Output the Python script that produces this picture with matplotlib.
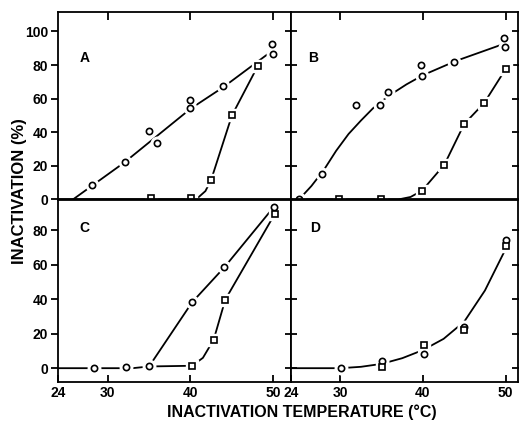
import matplotlib
matplotlib.use("Agg")
import matplotlib.pyplot as plt

plt.rcParams['font.family'] = ['Liberation Sans', 'DejaVu Sans']
plt.rcParams['font.weight'] = 'bold'

# ---- measured points (temperature, % inactivation) ----
a_circ_x = [28.1, 32.1, 35.0, 36.0, 39.9, 40.0, 43.9, 49.9, 50.0]
a_circ_y = [8.8, 22.2, 40.7, 33.9, 59.5, 54.3, 67.7, 92.6, 86.8]
a_sq_x = [35.2, 40.1, 42.5, 45.0, 48.1]
a_sq_y = [1.0, 1.0, 11.8, 50.0, 79.2]

b_circ_x = [25.0, 27.8, 31.9, 34.8, 35.8, 39.8, 39.9, 43.8, 49.8, 49.9]
b_circ_y = [0.0, 15.4, 56.0, 56.4, 63.8, 80.2, 73.3, 81.6, 96.2, 90.9]
b_sq_x = [29.9, 34.9, 39.9, 42.6, 45.0, 47.4, 50.0]
b_sq_y = [0.0, 0.0, 5.3, 20.8, 45.0, 57.4, 77.6]

c_circ_x = [28.3, 32.2, 35.0, 40.2, 44.1, 50.1]
c_circ_y = [0.0, 0.4, 1.0, 38.2, 58.5, 93.6]
c_sq_x = [40.2, 42.8, 44.2, 50.2]
c_sq_y = [1.4, 16.5, 39.7, 89.5]

d_circ_x = [30.1, 35.1, 40.1, 45.0, 50.0]
d_circ_y = [0.0, 4.0, 8.0, 24.0, 74.0]
d_sq_x = [35.1, 40.1, 45.0, 50.0]
d_sq_y = [0.5, 13.5, 22.0, 71.0]

# ---- hand-drawn curves ----
a_circ_cx = [25.8, 32.0, 40.0, 44.0, 50.0]
a_circ_cy = [0.0, 22.0, 54.0, 67.0, 89.0]
a_sq_cx = [24.0, 40.0, 41.0, 41.8, 42.5, 45.0, 48.1]
a_sq_cy = [0.0, 0.0, 1.5, 5.0, 11.8, 50.0, 79.2]

b_circ_cx = [25.0, 26.5, 28.0, 29.5, 31.0, 32.5, 34.0, 35.8, 38.0, 40.0, 44.0, 50.0]
b_circ_cy = [0.0, 8.0, 17.5, 29.0, 39.0, 47.0, 54.5, 61.5, 68.5, 74.0, 82.5, 93.0]
b_sq_cx = [24.0, 37.0, 38.5, 39.9, 42.6, 45.0, 47.4, 50.0]
b_sq_cy = [0.0, 0.0, 1.5, 5.3, 20.8, 45.0, 57.4, 77.6]

c_circ_cx = [24.0, 33.0, 35.0, 40.2, 44.1, 50.1]
c_circ_cy = [0.0, 0.0, 1.0, 38.2, 58.5, 93.6]
c_sq_cx = [35.0, 40.2, 41.5, 42.8, 44.2, 50.2]
c_sq_cy = [1.0, 1.4, 6.0, 16.5, 39.7, 89.5]

d_cx = [24.0, 30.0, 32.5, 35.0, 37.5, 40.0, 42.5, 45.0, 47.5, 50.0]
d_cy = [0.0, 0.0, 0.8, 2.5, 5.8, 10.5, 17.0, 27.0, 45.0, 69.0]

panels = {
    'A': (a_circ_x, a_circ_y, a_sq_x, a_sq_y, [(a_circ_cx, a_circ_cy), (a_sq_cx, a_sq_cy)]),
    'B': (b_circ_x, b_circ_y, b_sq_x, b_sq_y, [(b_circ_cx, b_circ_cy), (b_sq_cx, b_sq_cy)]),
    'C': (c_circ_x, c_circ_y, c_sq_x, c_sq_y, [(c_circ_cx, c_circ_cy), (c_sq_cx, c_sq_cy)]),
    'D': (d_circ_x, d_circ_y, d_sq_x, d_sq_y, [(d_cx, d_cy)]),
}

fig = plt.figure(figsize=(5.19, 4.24), dpi=100)
W, H = 519.0, 424.0
lx0, mx, rx1 = 58 / W, 290.7 / W, 518 / W
ty, my, by = 1 - 12 / H, 1 - 199.5 / H, 1 - 382 / H

axes = {
    'A': fig.add_axes([lx0, my, mx - lx0, ty - my]),
    'B': fig.add_axes([mx, my, rx1 - mx, ty - my]),
    'C': fig.add_axes([lx0, by, mx - lx0, my - by]),
    'D': fig.add_axes([mx, by, rx1 - mx, my - by]),
}

letter_pos = {'A': (26.6, 82), 'B': (26.1, 82), 'C': (26.6, 79), 'D': (26.4, 79)}

for key, ax in axes.items():
    cx, cy, sx, sy, curves = panels[key]
    for xs, ys in curves:
        ax.plot(xs, ys, color='black', lw=1.3, zorder=2, clip_on=False,
                solid_capstyle='butt')
    # white halo so lines stop short of symbols
    ax.plot(cx, cy, 'o', ms=9, mfc='white', mec='white', zorder=3, clip_on=False)
    ax.plot(sx, sy, 's', ms=8.5, mfc='white', mec='white', zorder=3, clip_on=False)
    ax.plot(cx, cy, 'o', ms=4.5, mfc='white', mec='black', mew=1.2, zorder=4, clip_on=False)
    ax.plot(sx, sy, 's', ms=4.2, mfc='white', mec='black', mew=1.2, zorder=4, clip_on=False)

    ax.text(*letter_pos[key], key, fontsize=10, fontweight='bold')
    for sp in ax.spines.values():
        sp.set_linewidth(1.3)
        sp.set_zorder(5)

for key in ['A', 'C']:
    axes[key].set_xlim(24, 52.1)
for key in ['B', 'D']:
    axes[key].set_xlim(24, 51.5)
for key in ['A', 'B']:
    axes[key].set_ylim(0, 111.6)
for key in ['C', 'D']:
    axes[key].set_ylim(-8, 97.7)

for key, ax in axes.items():
    ax.tick_params(width=1.3, labelsize=10)

# top panels: ticks on top edge, pointing in
for key in ['A', 'B']:
    ax = axes[key]
    ax.set_xticks([30, 40, 50])
    ax.xaxis.set_ticks_position('top')
    ax.tick_params(axis='x', direction='in', length=6, labeltop=False,
                   labelbottom=False)
# bottom panels: labels below, short inward ticks
for key in ['C', 'D']:
    ax = axes[key]
    ax.set_xticks([24, 30, 40, 50])
    ax.tick_params(axis='x', direction='in', length=5, pad=3)

axes['A'].set_yticks([0, 20, 40, 60, 80, 100])
axes['C'].set_yticks([0, 20, 40, 60, 80])
for key in ['A', 'C']:
    axes[key].tick_params(axis='y', direction='out', length=5, pad=2)
axes['B'].set_yticks([20, 40, 60, 80, 100])
axes['D'].set_yticks([0, 20, 40, 60, 80])
for key in ['B', 'D']:
    ax = axes[key]
    ax.yaxis.set_ticks_position('both')
    ax.tick_params(axis='y', direction='inout', length=9, labelleft=False)

fig.text(20 / W, 1 - 191 / H, 'INACTIVATION (%)', rotation=90, ha='center',
         va='center', fontsize=12, fontweight='bold')
fig.text(302 / W, 1 - 412 / H, 'INACTIVATION TEMPERATURE (°C)', ha='center',
         va='center', fontsize=11.5, fontweight='bold')

fig.savefig('out.png', dpi=100)
